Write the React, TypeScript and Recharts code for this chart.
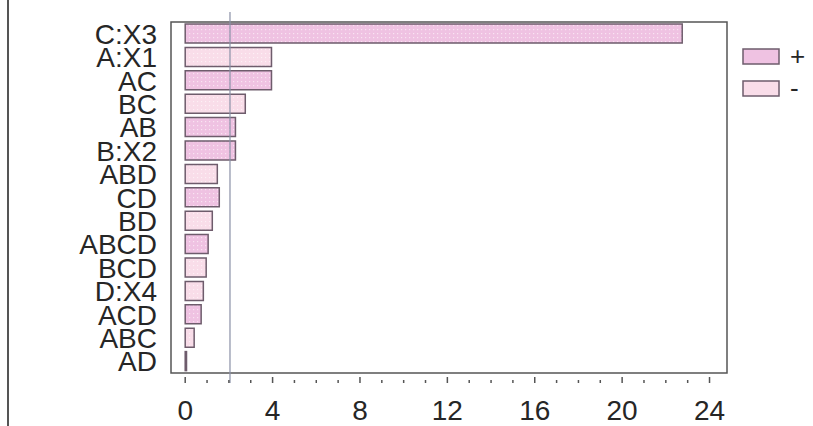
import { Bar, BarChart, Cell, ReferenceArea, ReferenceLine, XAxis, YAxis } from "recharts";

const terms = ["C:X3", "A:X1", "AC", "BC", "AB", "B:X2", "ABD", "CD", "BD", "ABCD", "BCD", "D:X4", "ACD", "ABC", "AD"];
const effects = [22.75, 3.95, 3.95, 2.75, 2.3, 2.3, 1.47, 1.56, 1.24, 1.05, 0.96, 0.83, 0.73, 0.41, 0.06];
const signs = ["+", "-", "+", "-", "+", "+", "-", "+", "-", "+", "-", "-", "+", "-", "-"];
const xTicks = [0, 1, 2, 3, 4, 5, 6, 7, 8, 9, 10, 11, 12, 13, 14, 15, 16, 17, 18, 19, 20, 21, 22, 23, 24];
const limit = 2.05;

const data = terms.map((t, i) => ({ term: t, effect: effects[i], sign: signs[i] }));

const FONT = "'Liberation Sans', Arial, sans-serif";
const INK = "#262626";
const EDGE = "#6e5c6c";

const BottomTick = ({ x, y, payload }: any) => {
  const major = payload.value % 4 === 0;
  return (
    <g>
      <line x1={x} x2={x} y1={y} y2={y - (major ? 6 : 3)} stroke="#555" strokeWidth={1.5} />
      {major && (
        <text x={x} y={y + 37} textAnchor="middle" fontSize={28} fontFamily={FONT} fill={INK}>
          {payload.value}
        </text>
      )}
    </g>
  );
};

const TopTick = ({ x, y, payload }: any) => {
  const major = payload.value % 4 === 0;
  return <line x1={x} x2={x} y1={y} y2={y + (major ? 6 : 3)} stroke="#555" strokeWidth={1.5} />;
};

const TermTick = ({ x, y, payload }: any) => (
  <text x={x - 14} y={y + 10} textAnchor="end" fontSize={28} fontFamily={FONT} fill={INK}>
    {payload.value}
  </text>
);

// legend drawn beside the chart so it doesn't eat plot width
const LegendBox = () => (
  <div style={{ position: "absolute", left: 742, top: 40, fontFamily: FONT, fontSize: 26, color: INK }}>
    {[
      { s: "+", fill: "#efc2e2" },
      { s: "-", fill: "#f9dde9" },
    ].map((item) => (
      <div key={item.s} style={{ display: "flex", alignItems: "center", height: 32 }}>
        <svg width={38} height={17}>
          <rect x={1} y={1} width={36} height={15} fill={item.fill} stroke={EDGE} strokeWidth={1.5} />
        </svg>
        <span style={{ marginLeft: 10, lineHeight: "26px" }}>{item.s}</span>
      </div>
    ))}
  </div>
);

export default function App() {
  return (
    <div style={{ position: "absolute", left: 0, top: 0, width: 813, height: 426, background: "#fff" }}>
      <div style={{ position: "absolute", left: 7, top: 0, width: 2, height: 426, background: "#555" }} />
      <BarChart
        width={813}
        height={426}
        data={data}
        layout="vertical"
        margin={{ top: 12, right: 86, bottom: 0, left: 0 }}
      >
        <defs>
          <pattern id="dotDark" width={4} height={4} patternUnits="userSpaceOnUse">
            <rect width={4} height={4} fill="#efc2e2" />
            <rect x={1} y={1} width={1.2} height={1.2} fill="#f9e4f2" />
          </pattern>
          <pattern id="dotLight" width={4} height={4} patternUnits="userSpaceOnUse">
            <rect width={4} height={4} fill="#f9dde9" />
            <rect x={1} y={1} width={1.2} height={1.2} fill="#fdf0f5" />
          </pattern>
        </defs>
        <XAxis
          type="number"
          domain={[-0.65, 24.8]}
          ticks={xTicks}
          allowDataOverflow
          height={43}
          axisLine={false}
          tickLine={false}
          tickSize={0}
          tickMargin={0}
          tick={<BottomTick />}
          interval={0}
        />
        <XAxis
          xAxisId="top"
          orientation="top"
          type="number"
          domain={[-0.65, 24.8]}
          ticks={xTicks}
          allowDataOverflow
          height={0}
          axisLine={false}
          tickLine={false}
          tickSize={0}
          tickMargin={0}
          tick={<TopTick />}
          interval={0}
        />
        <YAxis
          type="category"
          dataKey="term"
          width={171}
          axisLine={false}
          tickLine={false}
          tickSize={0}
          tickMargin={0}
          tick={<TermTick />}
          interval={0}
          padding={{ top: 10, bottom: 10 }}
        />
        <ReferenceArea x1={-0.65} x2={24.8} fill="none" stroke="#555" strokeWidth={1.5} ifOverflow="extendDomain" />
        <ReferenceLine x={limit} stroke="#8a90a6" strokeWidth={1.2} />
        <Bar dataKey="effect" barSize={19} stroke={EDGE} strokeWidth={1.5} isAnimationActive={false}>
          {data.map((d) => (
            <Cell key={d.term} fill={d.sign === "+" ? "url(#dotDark)" : "url(#dotLight)"} />
          ))}
        </Bar>
      </BarChart>
      <LegendBox />
    </div>
  );
}
